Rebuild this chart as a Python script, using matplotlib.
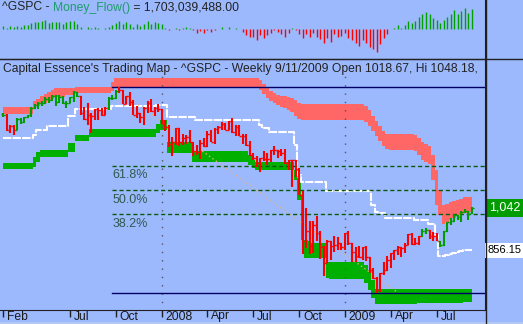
import numpy as np
import matplotlib
matplotlib.use('Agg')
import matplotlib.pyplot as plt
import matplotlib.transforms as mtransforms
from matplotlib.lines import Line2D
from matplotlib.patches import Rectangle

plt.rcParams['font.family'] = ['Liberation Sans', 'DejaVu Sans']

# ---- weekly ^GSPC bars, week ending 2007-02-23 .. 2009-09-11 ----
bar_open = [1455, 1451, 1387, 1403, 1387, 1436, 1421, 1444, 1453, 1484,
            1494, 1506, 1506, 1523, 1516, 1536, 1508, 1533, 1503, 1503,
            1530, 1553, 1534, 1459, 1433, 1454, 1446, 1479, 1474, 1454,
            1484, 1526, 1527, 1558, 1562, 1501, 1535, 1510, 1454, 1459,
            1441, 1481, 1505, 1468, 1484, 1478, 1412, 1401, 1325, 1331,
            1395, 1331, 1350, 1353, 1331, 1293, 1288, 1330, 1315, 1370,
            1333, 1390, 1398, 1414, 1388, 1425, 1376, 1400, 1361, 1360,
            1318, 1278, 1263, 1239, 1261, 1258, 1260, 1296, 1298, 1292,
            1283, 1242, 1252, 1255, 1213, 1099, 899, 941, 877, 969,
            931, 873, 800, 896, 876, 880, 888, 873, 932, 890,
            850, 832, 826, 869, 827, 770, 735, 683, 757, 769,
            816, 843, 857, 870, 866, 878, 929, 883, 887, 919,
            940, 946, 921, 919, 896, 879, 940, 979, 987, 1010,
            1004, 1026, 1029, 1018.67]
bar_high = [1461, 1456, 1410, 1410, 1437, 1437, 1445, 1453, 1485, 1499,
            1510, 1513, 1530, 1529, 1540, 1540, 1538, 1537, 1515, 1532,
            1556, 1555, 1535, 1488, 1503, 1460, 1480, 1482, 1481, 1485,
            1530, 1538, 1561, 1576, 1564, 1536, 1553, 1520, 1493, 1460,
            1488, 1515, 1523, 1485, 1499, 1478, 1432, 1410, 1356, 1396,
            1396, 1368, 1364, 1388, 1332, 1321, 1341, 1352, 1380, 1386,
            1395, 1404, 1422, 1416, 1426, 1440, 1406, 1406, 1370, 1370,
            1337, 1285, 1273, 1263, 1292, 1285, 1300, 1314, 1300, 1304,
            1304, 1256, 1256, 1255, 1220, 1116, 1044, 985, 985, 1007,
            941, 875, 900, 896, 918, 914, 888, 934, 943, 890,
            871, 877, 870, 875, 828, 780, 740, 758, 804, 832,
            845, 856, 875, 871, 889, 930, 931, 911, 920, 951,
            956, 948, 935, 931, 898, 943, 979, 997, 1018, 1013,
            1028, 1039, 1031, 1048.18]
bar_low = [1441, 1380, 1374, 1364, 1385, 1412, 1417, 1437, 1445, 1477,
           1480, 1491, 1502, 1505, 1512, 1490, 1505, 1500, 1484, 1503,
           1507, 1529, 1451, 1430, 1406, 1371, 1432, 1432, 1449, 1453,
           1475, 1516, 1521, 1548, 1500, 1500, 1492, 1450, 1439, 1416,
           1406, 1460, 1467, 1447, 1467, 1411, 1381, 1313, 1270, 1322,
           1317, 1320, 1326, 1330, 1272, 1274, 1257, 1312, 1312, 1331,
           1324, 1370, 1384, 1386, 1387, 1372, 1360, 1359, 1326, 1316,
           1272, 1253, 1225, 1200, 1248, 1234, 1247, 1278, 1262, 1273,
           1236, 1212, 1134, 1180, 1099, 840, 866, 840, 846, 899,
           818, 742, 800, 815, 851, 857, 857, 857, 880, 805,
           805, 821, 812, 808, 755, 729, 667, 672, 750, 767,
           780, 814, 836, 826, 845, 878, 879, 879, 880, 915,
           927, 908, 899, 896, 869, 875, 936, 968, 983, 990,
           980, 1022, 992, 1018]
bar_close = [1451, 1387, 1403, 1387, 1436, 1421, 1444, 1453, 1484, 1494,
             1506, 1506, 1523, 1516, 1536, 1508, 1533, 1503, 1503, 1530,
             1553, 1534, 1459, 1433, 1454, 1446, 1479, 1474, 1454, 1484,
             1526, 1527, 1558, 1562, 1501, 1535, 1510, 1454, 1459, 1441,
             1481, 1505, 1468, 1484, 1478, 1412, 1401, 1325, 1331, 1395,
             1331, 1350, 1353, 1331, 1293, 1288, 1330, 1315, 1370, 1333,
             1390, 1398, 1414, 1388, 1425, 1376, 1400, 1361, 1360, 1318,
             1278, 1263, 1239, 1261, 1258, 1260, 1296, 1298, 1292, 1283,
             1242, 1252, 1255, 1213, 1099, 899, 941, 877, 969, 931,
             873, 800, 896, 876, 880, 888, 873, 932, 890, 850,
             832, 826, 869, 827, 770, 735, 683, 757, 769, 816,
             843, 857, 870, 866, 878, 929, 883, 887, 919, 940,
             946, 921, 919, 896, 879, 940, 979, 987, 1010, 1004,
             1026, 1029, 1016, 1042.73]
# weeks drawn green (trading map "long" state), the rest red
green_weeks = [0] + list(range(4, 22)) + [30, 31, 32] + [119, 120] + list(range(124, 134))

# resistance zone (red band)
res_top = [1487] * 9 + [1514, 1522, 1536, 1544, 1553, 1562] + [1571] * 6 + [1575] * 10 \
    + [1597] + [1615] * 41 \
    + [1606, 1588, 1571, 1558, 1549, 1540, 1536, 1536, 1531, 1527, 1518, 1505] \
    + [1500] * 18 + [1491, 1474, 1448, 1426, 1404, 1382, 1368] + [1368] * 7 \
    + [1364, 1351, 1333, 1324, 1316, 1276, 1210, 1122, 1056, 1060, 1069, 1074,
       1078, 1082, 1091, 1091, 1091]
res_bot = [1456] * 9 + [1483, 1492, 1500, 1505, 1513, 1522] + [1531] * 3 + [1540] * 3 + [1549] * 10 \
    + [1558] + [1575] * 41 \
    + [1562, 1544, 1527, 1514, 1505, 1496, 1487, 1483, 1474, 1465, 1448, 1434] \
    + [1430] * 18 + [1421, 1404, 1382, 1360, 1338, 1316, 1302] + [1298] * 7 \
    + [1294, 1276, 1254, 1245, 1236, 1166, 1056, 1012, 972, 981, 990, 999,
       1008, 1016, 1021, 1021, 1025]

# support zone (green band)
sup_top = [1241] * 9 + [1267, 1289] + [1298] * 8 + [1329] * 2 + [1364] * 4 + [1390] * 19 \
    + [1412, 1430, 1430] + [1333] * 7 + [1294] * 16 + [1276, 1254] + [1245] * 11 \
    + [1210, 1175, 1100, 902, 898, 889, 889, 889, 889] + [805] * 11 \
    + [792, 770, 726] + [686] * 28
sup_bot = [1214] * 9 + [1223, 1245] + [1267] * 8 + [1289] * 2 + [1338] * 4 + [1355] * 19 \
    + [1373, 1386, 1386] + [1285] * 7 + [1245] * 16 + [1232, 1219] + [1210] * 11 \
    + [1166, 1078, 902, 823, 823, 823, 823, 823, 823] + [735] + [730] * 10 \
    + [713, 682, 647] + [620] * 12 + [625] * 13 + [629] * 3

# trailing stop (white line)
stop_line = [1351] * 9 + [1364, 1386, 1386, 1386] + [1404] * 6 + [1448] * 2 + [1478] * 10 \
    + [1492] * 13 + [1496] * 3 + [1443] * 8 + [1430] * 18 + [1408, 1395, 1395] + [1377] * 7 \
    + [1320, 1188] + [1157] * 7 + [1118] * 13 + [1056, 1025, 1021, 1021] + [999] * 8 \
    + [990] * 4 + [972, 972, 924, 832, 832, 836, 840, 845, 849, 854, 856.15, 856.15, 856.15]

# money flow histogram (millions)
money_flow = [340, 170, 340, 195, 340, 195, 365, 425, 595, 680,
              680, 765, 850, 595, 680, 655, 680, 510, 680, 765,
              765, 510, 255, 20, 255, 85, 255, 85, 20, 85,
              255, 425, 595, 765, 510, 680, 510, 255, 510, 340,
              510, 765, 510, 680, 595, 510, 170, -85, 0, 170,
              -40, 170, 255, 85, -85, -340, -170, -340, -85, -255,
              -85, 0, 255, 0, 255, 0, 170, 0, -255, -510,
              -680, -680, -935, -510, -765, -510, -340, -85, -255, -425,
              -680, -340, 85, -85, -425, -765, -425, -680, -340, -680,
              -850, -1190, -765, -1105, -425, -680, -595, -340, -765, -935,
              -1190, -1445, -935, -1190, -1530, -1700, -1955, -1275, -765, -425,
              25, 85, 425, 85, 425, 765, 595, 765, 1105, 1360,
              1530, 1360, 1020, 850, 595, 850, 1105, 1360, 1700, 1360,
              1615, 1870, 1445, 1703]

month_weeks = [0, 19, 32, 45, 58, 71, 84, 97, 110, 123]
month_labels = ['Feb', 'Jul', 'Oct', '2008', 'Apr', 'Jul', 'Oct', '2009', 'Apr', 'Jul']
year_weeks = [45, 97]

swing_high = 1576.09
swing_low = 666.79
fib_ratios = [0.382, 0.5, 0.618]
fib_start = 31
trend_x = [32.6, 111.8]
trend_y = [1562, 673]

BG = '#9DB9FE'
RED = '#FF0000'
GREEN_BAR = '#009C00'
W, H = 523, 324
FS = 8.7

fig = plt.figure(figsize=(W / 100, H / 100), dpi=100, facecolor=BG)
xlim = (-3 / 3.525, (485 - 3) / 3.525)

# ---------- money flow panel ----------
axm = fig.add_axes([0, 1 - 58.5 / H, 485 / W, 58.5 / H], facecolor=BG)
weeks = np.arange(len(money_flow))
mf = np.array(money_flow)
axm.vlines(weeks, 0, mf, colors=np.where(mf >= 0, '#00A000', RED), lw=1.0)
axm.set_xlim(*xlim)
axm.set_ylim(-2470, 2512)
axm.set_xticks([])
axm.set_yticks([])
for s in ['top', 'left', 'bottom']:
    axm.spines[s].set_visible(False)
axm.spines['right'].set_color('#202020')

fig.canvas.draw()
renderer = fig.canvas.get_renderer()
x0 = 2 / W
parts = [('^GSPC - ', '#222222'), ('Money_Flow()', '#1E9C6A'),
         (' = 1,703,039,488.00', '#222222')]
for txt, col in parts:
    t = fig.text(x0, 1 - 7.5 / H, txt, color=col, fontsize=FS, va='center', ha='left')
    bb = t.get_window_extent(renderer)
    x0 = bb.x1 / W

# ---------- main price panel ----------
ax = fig.add_axes([0, 14 / H, 485 / W, 251 / H], facecolor=BG)
n = len(bar_close)
x = np.arange(n)

ax.fill_between(x, res_bot, res_top, step='mid', color='#FF6666', lw=0)
ax.fill_between(x, sup_bot, sup_top, step='mid', color='#00B000', lw=0)
ax.step(x, stop_line, where='mid', color='white', lw=1.5, ls=(0, (4, 0.6)))

for yr in year_weeks:
    ax.plot([yr, yr], [590, 1625], color='#555555', lw=1, ls=(0, (1, 5)))

span = swing_high - swing_low
for r in fib_ratios:
    lvl = swing_low + r * span
    ax.plot([fib_start, xlim[1]], [lvl, lvl], color='#0B5A0B', lw=1, ls=(0, (3, 2)))
    ax.annotate(f'{r * 100:.1f}%', (fib_start, lvl), xytext=(0, -2.5),
                textcoords='offset points', va='top', ha='left',
                fontsize=9, color='#2E5A4E')
ax.plot([fib_start, xlim[1]], [swing_high, swing_high], color='#000066', lw=1)
ax.plot([fib_start, xlim[1]], [swing_low, swing_low], color='#000066', lw=1)
ax.plot(trend_x, trend_y, color='#E0B080', lw=1, ls=(0, (1, 2)))

cols = [GREEN_BAR if i in green_weeks else RED for i in range(n)]
ax.vlines(x, bar_low, bar_high, colors=cols, lw=1.5)
ax.hlines(bar_open, x - 0.5, x, colors=cols, lw=1.0)
ax.hlines(bar_close, x, x + 0.5, colors=cols, lw=1.0)

ax.set_xlim(*xlim)
ax.set_ylim(593.9, 1698.3)
ax.set_yticks([])
ax.set_xticks(month_weeks)
ax.tick_params(axis='x', direction='out', length=5, width=1, color='#202020',
               labelbottom=False)
ax.spines['left'].set_visible(False)
for s in ['top', 'bottom', 'right']:
    ax.spines[s].set_color('#202020')

trans = mtransforms.blended_transform_factory(ax.transData, ax.transAxes)
lab_trans = mtransforms.offset_copy(trans, fig=fig, x=4, y=-0.5, units='dots')
for w, lab in zip(month_weeks, month_labels):
    ax.text(w, 0, lab, transform=lab_trans, va='top', ha='left', fontsize=FS,
            color='#1A1A1A')

ax.text(3 / 485, 1 - 10 / 251, "Capital Essence's Trading Map - ^GSPC - Weekly 9/11/2009 "
        "Open 1018.67, Hi 1048.18,", transform=ax.transAxes, va='center', ha='left',
        fontsize=FS, color='#222222')

# last-value tags on the right edge
rtrans = mtransforms.blended_transform_factory(ax.transAxes, ax.transData)
ax.text(489 / 485, bar_close[-1], f'{int(bar_close[-1]):,}', transform=rtrans,
        va='center', ha='left', fontsize=9, color='white', clip_on=False,
        bbox=dict(boxstyle='square,pad=0.25', facecolor='#009C00', edgecolor='none'))
ax.text(488 / 485, stop_line[-1], f'{stop_line[-1]:.2f}', transform=rtrans,
        va='center', ha='left', fontsize=8.0, color='black', clip_on=False,
        bbox=dict(boxstyle='square,pad=0.25', facecolor='white', edgecolor='none'))

# frame lines spanning the whole window
fig.add_artist(Line2D([0, 1], [1 - 59 / H, 1 - 59 / H], transform=fig.transFigure,
                      color='#202020', lw=1))
fig.add_artist(Line2D([485.5 / W, 485.5 / W], [0, 1], transform=fig.transFigure,
                      color='#202020', lw=1))
fig.add_artist(Rectangle((0, 0), 1, 2.5 / H, transform=fig.transFigure,
                         facecolor='#B4C6F4', edgecolor='none', zorder=-1))

fig.savefig('out.png', dpi=100, facecolor=BG)
